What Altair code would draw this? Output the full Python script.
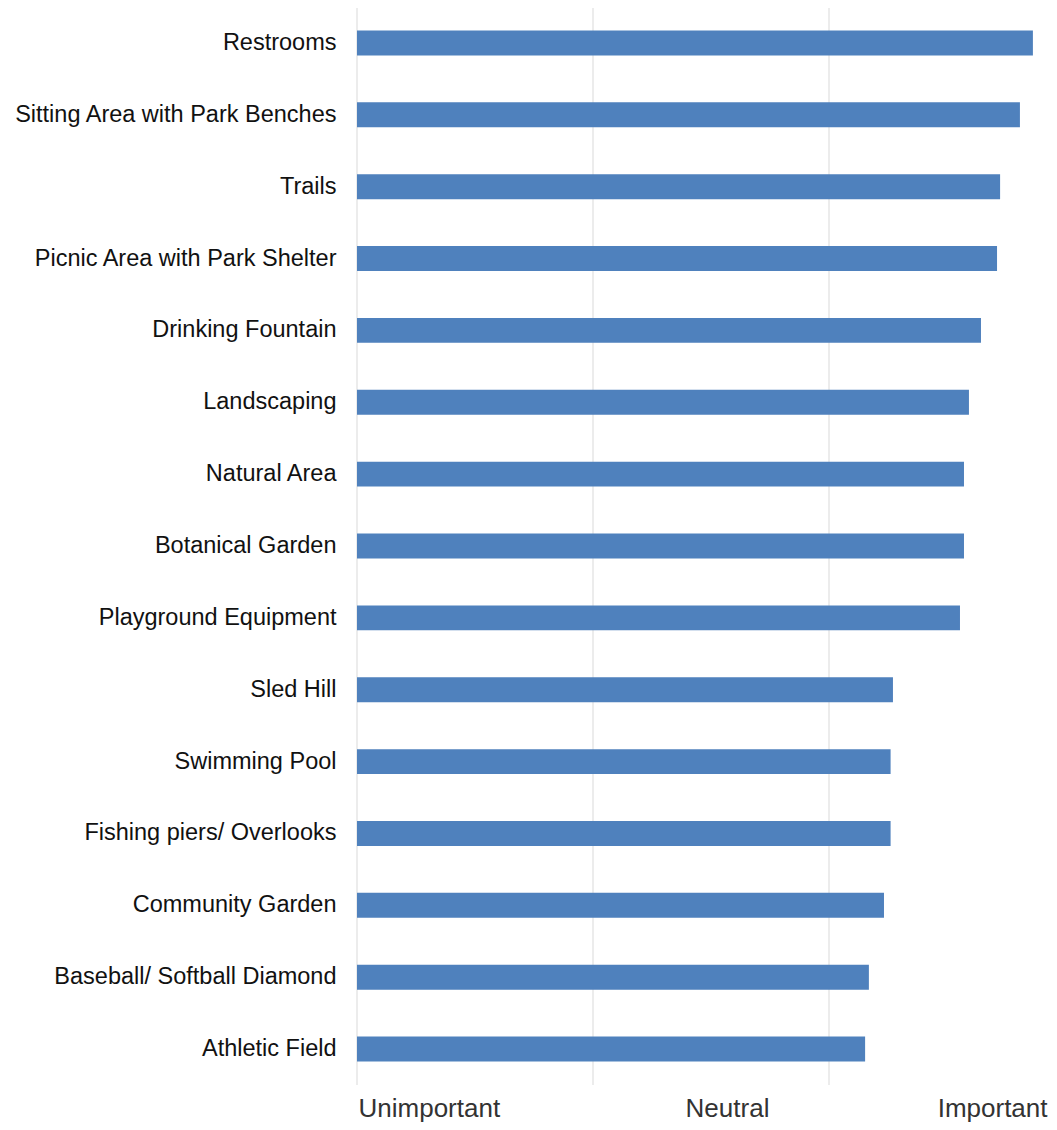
import altair as alt
import pandas as pd

categories = [
    "Restrooms",
    "Sitting Area with Park Benches",
    "Trails",
    "Picnic Area with Park Shelter",
    "Drinking Fountain",
    "Landscaping",
    "Natural Area",
    "Botanical Garden",
    "Playground Equipment",
    "Sled Hill",
    "Swimming Pool",
    "Fishing piers/ Overlooks",
    "Community Garden",
    "Baseball/ Softball Diamond",
    "Athletic Field",
]
scores = [3.864, 3.809, 3.725, 3.712, 3.644, 3.593, 3.572, 3.572, 3.555,
          3.271, 3.261, 3.261, 3.233, 3.169, 3.153]

grid_values = [1, 2, 3, 4]
axis_label_values = [1, 2.5, 4]
axis_label_texts = ["Unimportant", "Neutral", "Important"]

FONT = "Liberation Sans, Arial, sans-serif"

df = pd.DataFrame({"item": categories, "score": scores})
grid_df = pd.DataFrame({"g": grid_values})

v0, v1, v2 = axis_label_values
t0, t1, t2 = axis_label_texts
label_expr = (f"datum.value <= {v0} ? '{t0}' : "
              f"(datum.value >= {v2} ? '{t2}' : '{t1}')")

x_scale = alt.Scale(domain=[1, 4], nice=False, zero=False)

x_axis = alt.Axis(
    title=None,
    values=axis_label_values,
    labelExpr=label_expr,
    labelAlign=alt.ExprRef(
        expr=f"datum.value <= {v0} ? 'left' : (datum.value >= {v2} ? 'right' : 'center')"),
    labelOffset=alt.ExprRef(
        expr=f"datum.value <= {v0} ? 1 : (datum.value >= {v2} ? -18 : 16)"),
    grid=False,
    domain=False,
    ticks=False,
    labelPadding=31,
    labelBaseline="alphabetic",
    labelFont=FONT,
    labelFontSize=26,
    labelColor="#333333",
    labelOverlap=False,
    labelFlush=False,
    labelBound=False,
)

grid = alt.Chart(grid_df).mark_rule(color="#d9d9d9", strokeWidth=1).encode(
    x=alt.X("g:Q", scale=x_scale, axis=x_axis)
)

bars = alt.Chart(df).mark_bar(color="#4f81bd").encode(
    y=alt.Y(
        "item:N",
        sort=categories,
        scale=alt.Scale(paddingInner=0.653, paddingOuter=0.3265),
        axis=alt.Axis(
            title=None,
            domain=False,
            ticks=False,
            labelPadding=21,
            labelFont=FONT,
            labelFontSize=23.5,
            labelColor="#111111",
            labelLimit=400,
        ),
    ),
    x=alt.X("score:Q", scale=x_scale, axis=x_axis),
    x2=alt.datum(1),
)

chart = alt.layer(grid, bars).properties(
    width=708,
    height=1078,
    padding={"left": 349, "top": -1, "right": -16, "bottom": 37},
    autosize=alt.AutoSizeParams(type="none"),
).configure_view(stroke=None)

chart.save("out.html", embed_options={"renderer": "svg", "actions": False})
